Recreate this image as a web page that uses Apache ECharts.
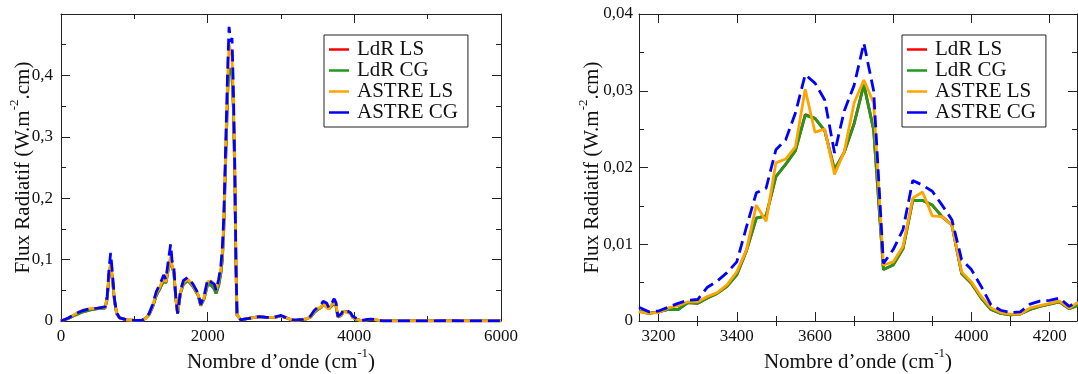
<!DOCTYPE html>
<html><head><meta charset="utf-8">
<script src="https://cdn.jsdelivr.net/npm/echarts@6/dist/echarts.min.js"></script>
<style>html,body{margin:0;padding:0;background:#fff}#c{width:1078px;height:374px}</style>
</head><body><div id="c"></div>
<script>
// ---------- data ----------
const seriesNames = ['LdR LS', 'LdR CG', 'ASTRE LS', 'ASTRE CG'];
const seriesColors = ['#ff0000', '#1e9a1e', '#ffa500', '#0000ff'];

// full-spectrum panel, low-wavenumber part (cm-1)
const lowX = [0,100,200,300,400,500,600,630,655,677,700,730,760,800,900,1000,1100,1150,1200,1250,1300,1350,1400,1430,1460,1495,1515,1540,1565,1590,1630,1670,1730,1800,1870,1905,1950,2000,2050,2090,2115,2150,2180,2200,2220,2240,2260,2275,2292,2312,2332,2350,2370,2385,2400,2450,2500,2600,2700,2800,2900,3000,3100];
const lowLdRLS = [0,0.004,0.010,0.015,0.018,0.020,0.021,0.036,0.075,0.091,0.070,0.032,0.012,0.005,0.002,0.001,0.001,0.004,0.010,0.023,0.042,0.053,0.066,0.062,0.082,0.101,0.088,0.078,0.037,0.012,0.046,0.060,0.066,0.056,0.042,0.025,0.036,0.060,0.058,0.052,0.045,0.058,0.078,0.100,0.150,0.240,0.320,0.380,0.412,0.405,0.400,0.350,0.235,0.095,0.010,0.002,0.003,0.005,0.007,0.006,0.006,0.008,0.004];
const lowLdRCG = [0,0.004,0.010,0.015,0.018,0.020,0.021,0.036,0.075,0.090,0.070,0.032,0.012,0.005,0.002,0.001,0.001,0.004,0.010,0.023,0.042,0.053,0.066,0.062,0.082,0.100,0.088,0.078,0.037,0.012,0.046,0.060,0.066,0.056,0.042,0.025,0.036,0.060,0.058,0.052,0.045,0.058,0.078,0.100,0.150,0.240,0.320,0.380,0.410,0.405,0.400,0.350,0.235,0.095,0.010,0.002,0.003,0.005,0.007,0.006,0.006,0.008,0.004];
const lowAstreLS = [0,0.005,0.012,0.018,0.020,0.021,0.022,0.038,0.078,0.095,0.072,0.033,0.012,0.005,0.002,0.001,0.001,0.004,0.011,0.025,0.045,0.056,0.070,0.064,0.085,0.105,0.090,0.080,0.038,0.012,0.048,0.063,0.068,0.058,0.043,0.026,0.038,0.064,0.065,0.060,0.050,0.065,0.085,0.110,0.160,0.250,0.340,0.400,0.450,0.440,0.430,0.370,0.245,0.100,0.010,0.002,0.003,0.005,0.007,0.006,0.006,0.008,0.004];
const lowAstreCG = [0,0.005,0.012,0.017,0.020,0.021,0.023,0.040,0.085,0.111,0.080,0.035,0.013,0.005,0.002,0.001,0.001,0.004,0.012,0.027,0.048,0.060,0.075,0.068,0.095,0.125,0.098,0.085,0.040,0.012,0.050,0.066,0.071,0.060,0.045,0.027,0.040,0.068,0.063,0.060,0.050,0.068,0.090,0.120,0.170,0.260,0.350,0.420,0.479,0.455,0.461,0.380,0.250,0.100,0.010,0.002,0.003,0.005,0.007,0.006,0.006,0.009,0.004];

// detailed band (both panels)
const bandX = [3150,3175,3200,3225,3250,3275,3300,3325,3350,3375,3400,3425,3450,3475,3500,3525,3550,3575,3600,3625,3650,3675,3700,3725,3750,3775,3800,3825,3850,3875,3900,3925,3950,3975,4000,4025,4050,4075,4100,4125,4150,4175,4200,4225,4250,4275];
const bandLdRLS = [0.0013,0.0010,0.0012,0.0015,0.0015,0.0024,0.0023,0.0030,0.0036,0.0045,0.0060,0.0092,0.0134,0.0137,0.0188,0.0204,0.0222,0.0269,0.0264,0.0248,0.0197,0.0220,0.0257,0.0308,0.0249,0.0067,0.0073,0.0094,0.0157,0.0157,0.0151,0.0136,0.0125,0.0062,0.0049,0.0030,0.0015,0.0010,0.0008,0.0009,0.0015,0.0019,0.0022,0.0025,0.0016,0.0021];
const bandLdRCG = [0.0013,0.0010,0.0012,0.0015,0.0015,0.0024,0.0023,0.0030,0.0036,0.0045,0.0060,0.0092,0.0134,0.0137,0.0188,0.0204,0.0222,0.0268,0.0264,0.0248,0.0197,0.0220,0.0257,0.0308,0.0249,0.0067,0.0073,0.0094,0.0157,0.0157,0.0151,0.0136,0.0125,0.0062,0.0049,0.0030,0.0015,0.0010,0.0008,0.0009,0.0015,0.0019,0.0022,0.0025,0.0016,0.0021];
const bandAstreLS = [0.0012,0.0010,0.0011,0.0017,0.0020,0.0025,0.0025,0.0032,0.0037,0.0047,0.0064,0.0093,0.0151,0.0130,0.0206,0.0211,0.0227,0.0302,0.0246,0.0250,0.0191,0.0221,0.0284,0.0314,0.0284,0.0073,0.0077,0.0097,0.0160,0.0168,0.0137,0.0136,0.0125,0.0064,0.0051,0.0032,0.0017,0.0011,0.0009,0.0009,0.0017,0.0020,0.0023,0.0026,0.0017,0.0025];
const bandAstreCG = [0.0018,0.0012,0.0013,0.0018,0.0023,0.0027,0.0028,0.0044,0.0052,0.0063,0.0077,0.0123,0.0167,0.0173,0.0223,0.0236,0.0271,0.0321,0.0310,0.0288,0.0219,0.0274,0.0307,0.0362,0.0300,0.0075,0.0093,0.0119,0.0183,0.0177,0.0169,0.0151,0.0132,0.0080,0.0067,0.0045,0.0021,0.0014,0.0011,0.0012,0.0022,0.0026,0.0027,0.0030,0.0019,0.0027];

// full-spectrum panel, high-wavenumber tail
const tailX = [4300,4350,4400,4500,4700,5000,5300,5600,6000];
const tailLdRLS = [0.0012,0.0004,0.0002,0.0002,0.0002,0.0002,0.0003,0.0002,0.0001];
const tailLdRCG = [0.0012,0.0004,0.0002,0.0002,0.0002,0.0002,0.0003,0.0002,0.0001];
const tailAstreLS = [0.0013,0.0005,0.0003,0.0003,0.0003,0.0003,0.0003,0.0003,0.0002];
const tailAstreCG = [0.0015,0.0005,0.0003,0.0003,0.0003,0.0003,0.0004,0.0003,0.0002];

// ticks
const leftXTicks = [0, 2000, 4000, 6000];
const rightXTicks = [3200, 3400, 3600, 3800, 4000, 4200];
const rightXMinorTicks = [3300, 3500, 3700, 3900, 4100];

// ---------- build ----------
const lowSets = [lowLdRLS, lowLdRCG, lowAstreLS, lowAstreCG];
const bandSets = [bandLdRLS, bandLdRCG, bandAstreLS, bandAstreCG];
const tailSets = [tailLdRLS, tailLdRCG, tailAstreLS, tailAstreCG];

function pairs(xs, ys) { return xs.map((x, i) => [x, ys[i]]); }

const FONT = 'Liberation Serif';
const AX = '#222';

function fmt(dec) {
  return v => (v === 0 ? '0' : v.toFixed(dec).replace('.', ','));
}

const baseTick = { show: true, inside: true, length: 9, lineStyle: { color: AX, width: 1 } };
const baseMinor = { show: true, splitNumber: 2, length: 5, lineStyle: { color: AX, width: 1 } };
const axisLine = { show: true, onZero: false, lineStyle: { color: AX, width: 1 } };
const labelStyle = { fontFamily: FONT, fontSize: 17, color: '#111' };
const nameStyle = {
  fontFamily: FONT, fontSize: 21, color: '#111', lineHeight: 30,
  rich: { sup: { fontFamily: FONT, fontSize: 13, color: '#111', lineHeight: 14, verticalAlign: 'top' } }
};

const xAxes = [];
const yAxes = [];

// Left grid (0)
xAxes.push({
  gridIndex: 0, type: 'value', min: 0, max: 6000, interval: 2000, position: 'bottom',
  axisLine, axisTick: baseTick, minorTick: baseMinor, splitLine: { show: false },
  axisLabel: Object.assign({ margin: 7, customValues: leftXTicks, formatter: v => String(v) }, labelStyle),
  name: 'Nombre d\u2019onde (cm{sup|-1})', nameLocation: 'middle', nameGap: 26, nameMoveOverlap: false, nameTextStyle: nameStyle
});
xAxes.push({
  gridIndex: 0, type: 'value', min: 0, max: 6000, interval: 2000, position: 'top',
  axisLine, axisTick: baseTick, minorTick: baseMinor, splitLine: { show: false }, axisLabel: { show: false }
});
yAxes.push({
  gridIndex: 0, type: 'value', min: 0, max: 0.5, interval: 0.1, position: 'left',
  axisLine, axisTick: baseTick, minorTick: baseMinor, splitLine: { show: false },
  axisLabel: Object.assign({ margin: 8, formatter: v => (Math.abs(v - 0.5) < 1e-9 ? '' : fmt(1)(v)) }, labelStyle),
  name: 'Flux Radiatif (W.m{sup|-2}.cm)', nameLocation: 'middle', nameGap: 23, nameMoveOverlap: false, nameTextStyle: nameStyle
});
yAxes.push({
  gridIndex: 0, type: 'value', min: 0, max: 0.5, interval: 0.1, position: 'right',
  axisLine, axisTick: baseTick, minorTick: baseMinor, splitLine: { show: false }, axisLabel: { show: false }
});

// Right grid (1)
const rMin = 3150, rMax = 4270;
xAxes.push({
  gridIndex: 1, type: 'value', min: rMin, max: rMax, position: 'bottom',
  axisLine, axisTick: Object.assign({ customValues: rightXTicks }, baseTick), splitLine: { show: false },
  axisLabel: Object.assign({ margin: 7, customValues: rightXTicks, formatter: v => String(v) }, labelStyle),
  name: 'Nombre d\u2019onde (cm{sup|-1})', nameLocation: 'middle', nameGap: 26, nameMoveOverlap: false, nameTextStyle: nameStyle
});
xAxes.push({
  gridIndex: 1, type: 'value', min: rMin, max: rMax, position: 'bottom',
  axisLine: { show: false }, splitLine: { show: false }, axisLabel: { show: false },
  axisTick: Object.assign({}, baseTick, { length: 5, customValues: rightXMinorTicks })
});
xAxes.push({
  gridIndex: 1, type: 'value', min: rMin, max: rMax, position: 'top',
  axisLine, axisTick: Object.assign({ customValues: rightXTicks }, baseTick), splitLine: { show: false },
  axisLabel: { show: false }
});
xAxes.push({
  gridIndex: 1, type: 'value', min: rMin, max: rMax, position: 'top',
  axisLine: { show: false }, splitLine: { show: false }, axisLabel: { show: false },
  axisTick: Object.assign({}, baseTick, { length: 5, customValues: rightXMinorTicks })
});
yAxes.push({
  gridIndex: 1, type: 'value', min: 0, max: 0.04, interval: 0.01, position: 'left',
  axisLine, axisTick: baseTick, minorTick: baseMinor, splitLine: { show: false },
  axisLabel: Object.assign({ margin: 6, formatter: fmt(2) }, labelStyle),
  name: 'Flux Radiatif (W.m{sup|-2}.cm)', nameLocation: 'middle', nameGap: 32, nameMoveOverlap: false, nameTextStyle: nameStyle
});
yAxes.push({
  gridIndex: 1, type: 'value', min: 0, max: 0.04, interval: 0.01, position: 'right',
  axisLine, axisTick: baseTick, minorTick: baseMinor, splitLine: { show: false }, axisLabel: { show: false }
});

const series = [];
seriesNames.forEach((name, k) => {
  const lineStyle = { color: seriesColors[k], width: 2.8 };
  if (k === 3) { lineStyle.type = [12, 6]; }
  const full = pairs(lowX, lowSets[k]).concat(pairs(bandX, bandSets[k]), pairs(tailX, tailSets[k]));
  series.push({
    name, type: 'line', xAxisIndex: 0, yAxisIndex: 0, data: full,
    symbol: 'none', showSymbol: false, lineStyle, itemStyle: { color: seriesColors[k] },
    clip: true, animation: false, z: 2 + k
  });
  series.push({
    name, type: 'line', xAxisIndex: 4, yAxisIndex: 2, data: pairs(bandX, bandSets[k]),
    symbol: 'none', showSymbol: false, lineStyle, itemStyle: { color: seriesColors[k] },
    clip: true, animation: false, z: 2 + k
  });
});

function legendAt(left) {
  return {
    left, top: 35, orient: 'vertical',
    data: seriesNames.map(n => ({ name: n, icon: 'rect' })),
    backgroundColor: '#fff', borderColor: '#222', borderWidth: 1,
    padding: [4, 10, 4, 5], itemGap: 0, itemWidth: 20, itemHeight: 2.5,
    selectedMode: false,
    textStyle: { fontFamily: FONT, fontSize: 21, color: '#111', lineHeight: 20, padding: [0, 0, 0, 3] },
    z: 20
  };
}

const chart = echarts.init(document.getElementById('c'), null, { renderer: 'canvas' });
chart.setOption({
  backgroundColor: '#fff',
  animation: false,
  grid: [
    { left: 61, right: 1078 - 501, top: 14, bottom: 374 - 321, outerBoundsMode: 'none', containLabel: false },
    { left: 639, right: 1, top: 14, bottom: 374 - 321, outerBoundsMode: 'none', containLabel: false }
  ],
  xAxis: xAxes,
  yAxis: yAxes,
  legend: [legendAt(324), legendAt(902)],
  series
});
</script>
</body></html>
